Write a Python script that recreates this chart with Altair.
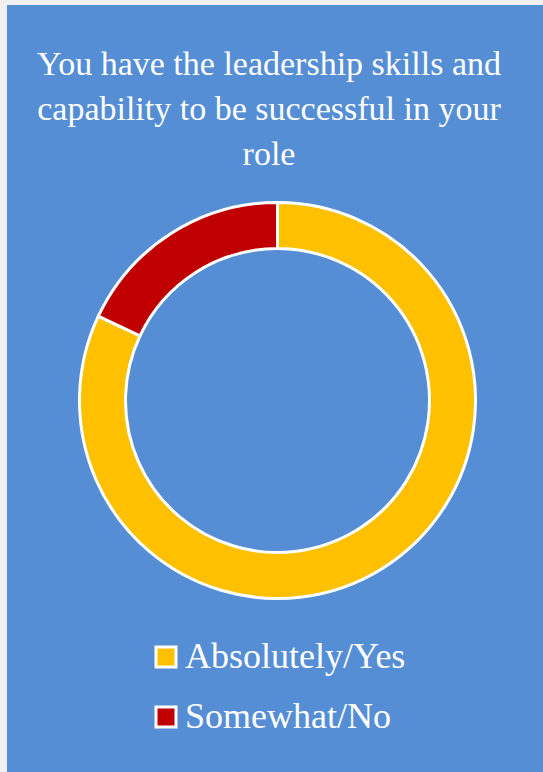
import altair as alt
import pandas as pd

categories = ["Absolutely/Yes", "Somewhat/No"]
values = [82, 18]
order_idx = [1, 2]
colors = ["#FFC000", "#C00000"]
title_lines = [
    "You have the leadership skills and",
    "capability to be successful in your",
    "role",
]

BLUE = "#558ED5"
FONT = "Liberation Serif"

df = pd.DataFrame({"category": categories, "value": values, "ord": order_idx})

donut = (
    alt.Chart(df)
    .mark_arc(innerRadius=152, outerRadius=198, stroke="white", strokeWidth=3)
    .encode(
        theta=alt.Theta("value:Q", stack=True),
        order=alt.Order("ord:Q"),
        color=alt.Color(
            "category:N",
            scale=alt.Scale(domain=categories, range=colors),
            sort=categories,
            legend=alt.Legend(
                title=None,
                orient="none",
                legendX=141,
                legendY=634,
                direction="vertical",
                symbolType="square",
                symbolSize=400,
                symbolStrokeColor="white",
                symbolStrokeWidth=3,
                symbolOpacity=1,
                labelFont=FONT,
                labelFontSize=36,
                labelColor="white",
                labelOffset=1,
                labelLimit=400,
                rowPadding=24,
                padding=0,
            ),
        ),
        x=alt.value(270.5),
        y=alt.value(395.5),
    )
)

title_df = pd.DataFrame({"t": [0]})
title = (
    alt.Chart(title_df)
    .mark_text(
        text=title_lines,
        font=FONT,
        fontSize=34,
        lineHeight=45,
        color="white",
        align="center",
        baseline="alphabetic",
    )
    .encode(x=alt.value(262), y=alt.value(70))
)

chart = (
    alt.layer(donut, title)
    .properties(
        width=536,
        height=767,
        autosize=alt.AutoSizeParams(type="none"),
        padding={"left": 7, "top": 5, "right": 0, "bottom": 0},
        background="#F0F0F0",
    )
    .configure_view(fill=BLUE, stroke="transparent", strokeWidth=0)
)

chart.save("out.html", embed_options={"renderer": "svg", "actions": False})
